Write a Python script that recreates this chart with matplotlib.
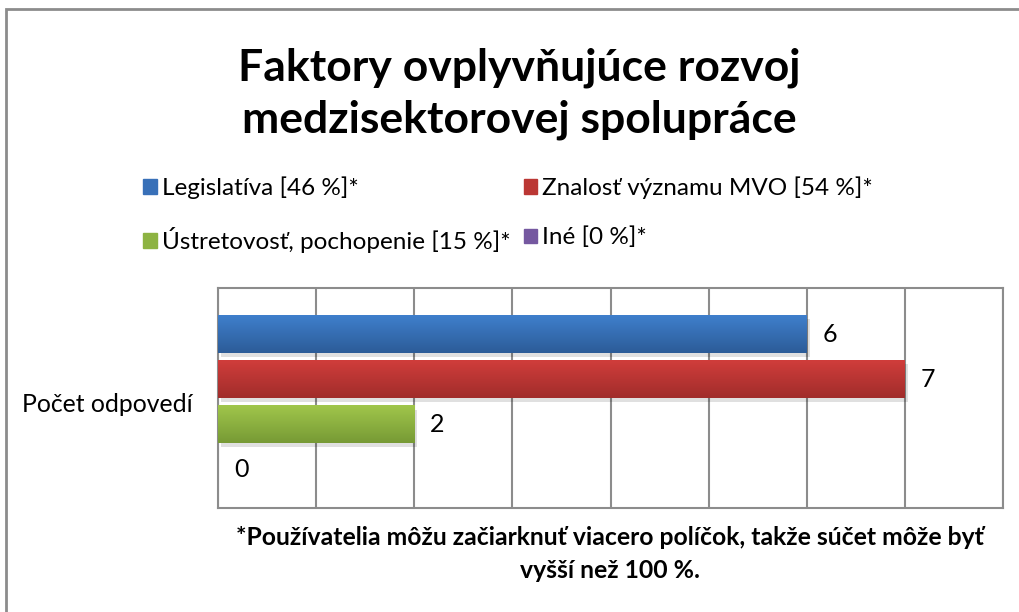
import numpy as np
import matplotlib.pyplot as plt
from matplotlib.patches import Rectangle
from matplotlib.colors import LinearSegmentedColormap

plt.rcParams['font.family'] = ['Lato', 'DejaVu Sans']

title = 'Faktory ovplyvňujúce rozvoj\nmedzisektorovej spolupráce'
footnote = '*Používatelia môžu začiarknuť viacero políčok, takže súčet môže byť\nvyšší než 100 %.'
group_label = 'Počet odpovedí'
categories = ['Legislatíva [46 %]*', 'Znalosť významu MVO [54 %]*',
              'Ústretovosť, pochopenie [15 %]*', 'Iné [0 %]*']
values = [6, 7, 2, 0]
x_max = 8

# top / bottom of each gradient
colors_top = ['#3f7fcc', '#d03d3b', '#a0c64b', '#8464a8']
colors_bot = ['#2c5c98', '#a12d2b', '#779a35', '#5f447f']
legend_colors = ['#3870b8', '#bb3734', '#8db342', '#7558a0']

fig = plt.figure(figsize=(10.2, 6.12), dpi=100)
ax = fig.add_axes([218 / 1020, 1 - 508 / 612, (1003 - 218) / 1020, (508 - 288) / 612])

pos = np.arange(len(values))
bars = ax.barh(pos, values, height=0.83, color=legend_colors, zorder=3)

# gradient fill + light shadow
for b, ct, cb in zip(bars, colors_top, colors_bot):
    x0, y0 = b.get_x(), b.get_y()
    w, h = b.get_width(), b.get_height()
    if w <= 0:
        continue
    cmap = LinearSegmentedColormap.from_list('g', [ct, cb])
    grad = np.linspace(0, 1, 64).reshape(-1, 1)
    ax.imshow(grad, cmap=cmap, aspect='auto', extent=(x0, x0 + w, y0 + h, y0),
              zorder=4, interpolation='bicubic')
    ax.add_patch(Rectangle((x0 + 0.03, y0 + 0.08), w, h, color='#000000',
                           alpha=0.12, zorder=2, lw=0))

for p, v in zip(pos, values):
    ax.annotate(str(v), xy=(v, p), xytext=(16, 0), textcoords='offset pixels',
                ha='left', va='center', fontsize=18, zorder=5)

ax.set_xlim(0, x_max)
ax.set_ylim(3.84, -1.02)
ax.set_xticks(np.arange(0, x_max + 1))
ax.set_xticklabels([])
ax.tick_params(axis='both', length=0)
ax.set_yticks([1.5])
ax.set_yticklabels([group_label], fontsize=17.8)
ax.tick_params(axis='y', pad=18)
ax.grid(axis='x', color='#8c8c8c', lw=1.5, zorder=1)
for s in ax.spines.values():
    s.set_color('#8c8c8c')
    s.set_linewidth(1.5)

handles = [Rectangle((0, 0), 1, 1, color=c) for c in legend_colors]
order = [0, 2, 1, 3]
fig.legend([handles[i] for i in order], [categories[i] for i in order],
           ncol=2, loc='upper left', bbox_to_anchor=(136 / 1020, 1 - 169 / 612),
           frameon=False, fontsize=17.5, handlelength=0.55, handleheight=0.55,
           handletextpad=0.2, columnspacing=0.55, labelspacing=1.15,
           borderaxespad=0, borderpad=0.3)

fig.text(519 / 1020, 1 - 94 / 612, title, ha='center', va='center',
         fontsize=32, fontweight='bold', linespacing=1.36)
fig.text(610 / 1020, 1 - 554 / 612, footnote, ha='center', va='center',
         fontsize=17.8, fontweight='bold', linespacing=1.5)

# outer chart border
fig.patches.append(Rectangle((6 / 1020, -0.1), 1.2, 1.1 - 9 / 612, transform=fig.transFigure,
                             fill=False, ec='#8c8c8c', lw=2))

fig.savefig('out.png', dpi=100)
